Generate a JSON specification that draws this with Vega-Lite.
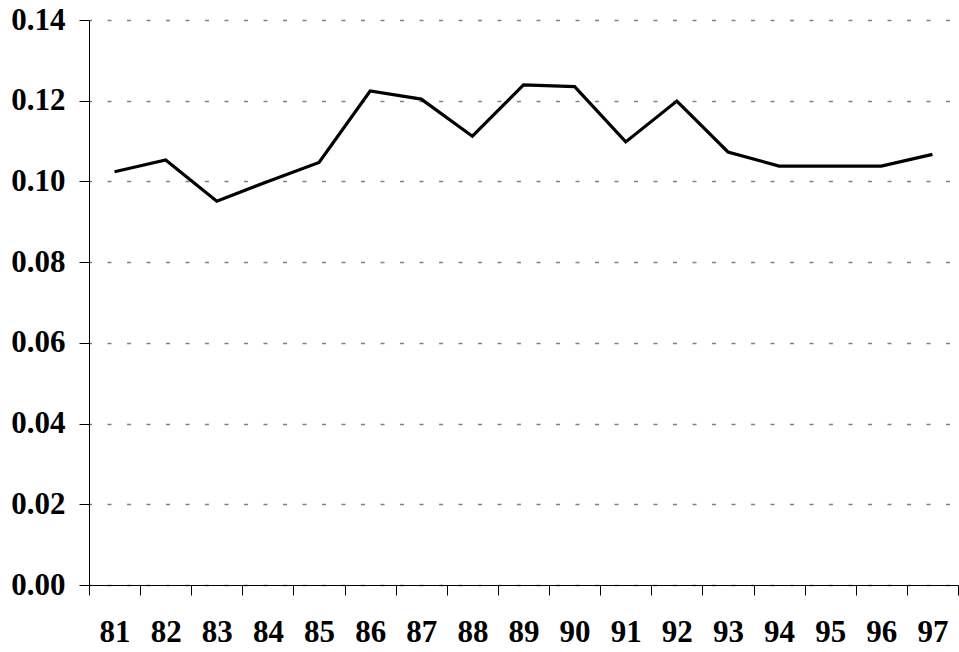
{
  "$schema": "https://vega.github.io/schema/vega-lite/v6.json",
  "width": 869,
  "height": 565,
  "autosize": {"type": "none"},
  "padding": {"left": 89, "top": 20, "right": 1, "bottom": 67},
  "background": "white",
  "data": {
    "values": [
      {"year": "81", "value": 0.1024},
      {"year": "82", "value": 0.1053},
      {"year": "83", "value": 0.0951},
      {"year": "84", "value": 0.1000},
      {"year": "85", "value": 0.1047},
      {"year": "86", "value": 0.1224},
      {"year": "87", "value": 0.1204},
      {"year": "88", "value": 0.1112},
      {"year": "89", "value": 0.1239},
      {"year": "90", "value": 0.1235},
      {"year": "91", "value": 0.1098},
      {"year": "92", "value": 0.1199},
      {"year": "93", "value": 0.1073},
      {"year": "94", "value": 0.1038},
      {"year": "95", "value": 0.1038},
      {"year": "96", "value": 0.1038},
      {"year": "97", "value": 0.1067}
    ]
  },
  "mark": {"type": "line", "color": "black", "strokeWidth": 3.2},
  "encoding": {
    "x": {
      "field": "year",
      "type": "ordinal",
      "sort": null,
      "scale": {"type": "band", "paddingInner": 0, "paddingOuter": 0},
      "axis": {
        "title": null,
        "labelAngle": 0,
        "tickBand": "extent",
        "tickSize": 10,
        "tickColor": "black",
        "domainColor": "black",
        "labelFont": "Liberation Serif",
        "labelFontSize": 31,
        "labelFontWeight": "bold",
        "labelColor": "black",
        "labelPadding": 22,
        "grid": false
      }
    },
    "y": {
      "field": "value",
      "type": "quantitative",
      "scale": {"domain": [0, 0.14], "nice": false, "zero": true},
      "axis": {
        "title": null,
        "values": [0, 0.02, 0.04, 0.06, 0.08, 0.1, 0.12, 0.14],
        "format": ".2f",
        "tickSize": 10,
        "tickColor": "black",
        "domainColor": "black",
        "labelFont": "Liberation Serif",
        "labelFontSize": 31,
        "labelFontWeight": "bold",
        "labelColor": "black",
        "labelPadding": 14,
        "grid": true,
        "gridColor": "#808080",
        "gridDash": [4, 15.5],
        "gridDashOffset": 1.5,
        "gridWidth": 1.3
      }
    }
  },
  "config": {"view": {"stroke": null}}
}
